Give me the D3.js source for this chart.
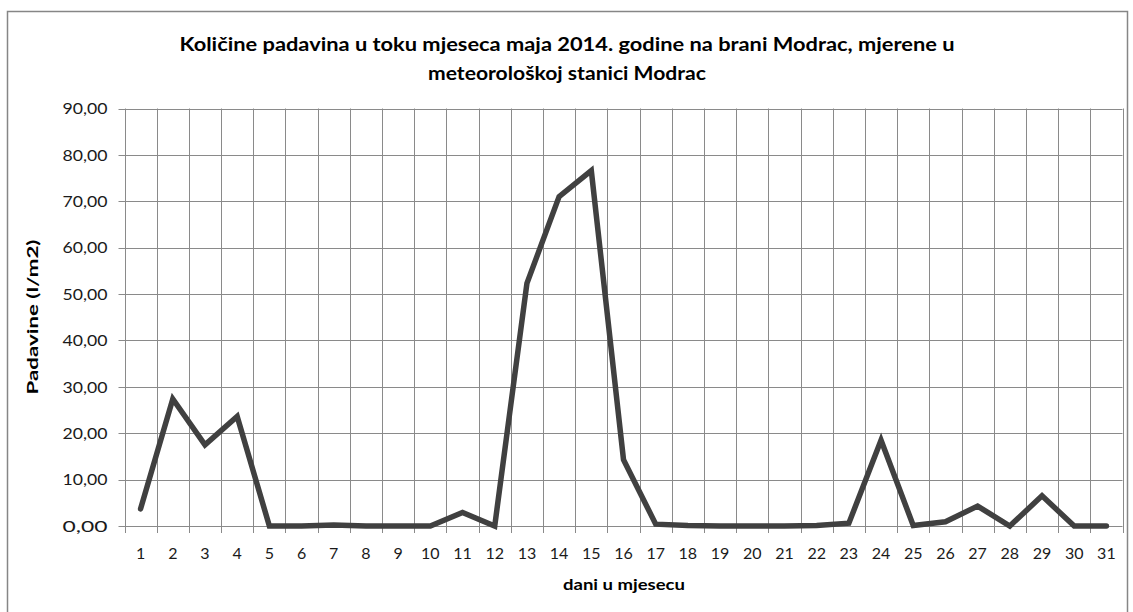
<!DOCTYPE html>
<html><head><meta charset="utf-8">
<script src="https://cdn.jsdelivr.net/npm/d3@7"></script>
<style>body{margin:0;background:#fff;} svg{display:block;font-family:Lato,"Open Sans",sans-serif;}</style>
</head><body>
<svg id="c" width="1133" height="612"></svg>
<script>
const days = ["1","2","3","4","5","6","7","8","9","10","11","12","13","14","15","16","17","18","19","20","21","22","23","24","25","26","27","28","29","30","31"];
const rainfall = [3.7,27.4,17.5,23.6,0,0,0.2,0,0,0,2.9,0,52.3,71.0,76.6,14.3,0.4,0.1,0,0,0,0.1,0.6,18.5,0.1,0.9,4.3,0,6.5,0,0];
const yTicks = [0,10,20,30,40,50,60,70,80,90];
const titleLines = ["Količine padavina u toku mjeseca maja 2014. godine na brani Modrac, mjerene u","meteorološkoj stanici Modrac"];
const yTitle = "Padavine (l/m2)";
const xTitle = "dani u mjesecu";

const svg = d3.select("#c");
const m = {left:124.5, right:1122.5, top:108.5, bottom:526};

svg.append("rect").attr("x",7.5).attr("y",11.5).attr("width",1120).attr("height",620)
  .attr("fill","#fff").attr("stroke","#868686").attr("stroke-width",1.5);

const x = d3.scaleBand().domain(days).range([m.left,m.right]).padding(0);
const y = d3.scaleLinear().domain([0,90]).range([m.bottom,m.top]);
const fmt = d => d3.format(".2f")(d).replace(".",",");

// horizontal grid
svg.append("g").selectAll("line").data(yTicks).join("line")
  .attr("x1",m.left-6).attr("x2",m.right)
  .attr("y1",d=>Math.round(y(d))+0.5).attr("y2",d=>Math.round(y(d))+0.5)
  .attr("stroke","#8a8a8a").attr("stroke-width",1);
// vertical grid at band boundaries
const bounds = days.map(d=>x(d)).concat([m.right]);
svg.append("g").selectAll("line").data(bounds).join("line")
  .attr("x1",d=>Math.round(d)+0.5).attr("x2",d=>Math.round(d)+0.5)
  .attr("y1",m.top).attr("y2",m.bottom+7)
  .attr("stroke","#8a8a8a").attr("stroke-width",1);

// y tick labels
svg.append("g").selectAll("text").data(yTicks).join("text")
  .attr("x",m.left-17).attr("y",d=>y(d)).attr("dy","0.36em")
  .attr("text-anchor","end").attr("font-size",16).attr("fill","#1a1a1a")
  .attr("textLength",45).attr("lengthAdjust","spacingAndGlyphs").text(fmt);
// x tick labels
svg.append("g").selectAll("text").data(days).join("text")
  .attr("x",d=>x(d)+x.bandwidth()/2).attr("y",559)
  .attr("text-anchor","middle").attr("font-size",16).attr("fill","#1a1a1a").text(d=>d);

// line
const line = d3.line().x((d,i)=>x(days[i])+x.bandwidth()/2).y(d=>y(d));
svg.append("path").datum(rainfall).attr("d",line)
  .attr("fill","none").attr("stroke","#404040").attr("stroke-width",5.5)
  .attr("stroke-linejoin","miter").attr("stroke-miterlimit",4).attr("stroke-linecap","round");

// titles
svg.append("g").selectAll("text").data(titleLines).join("text")
  .attr("x",567).attr("y",(d,i)=>51+i*29).attr("text-anchor","middle")
  .attr("font-size",19).attr("font-weight","bold").attr("fill","#000")
  .attr("textLength",(d,i)=>i===0?775:278).attr("lengthAdjust","spacingAndGlyphs").text(d=>d);
svg.append("text").attr("transform","translate(38,317) rotate(-90)")
  .attr("text-anchor","middle").attr("font-size",16).attr("font-weight","bold").attr("fill","#000")
  .attr("textLength",155).attr("lengthAdjust","spacingAndGlyphs").text(yTitle);
svg.append("text").attr("x",624).attr("y",590).attr("text-anchor","middle")
  .attr("font-size",16).attr("font-weight","bold").attr("fill","#000")
  .attr("textLength",122).attr("lengthAdjust","spacingAndGlyphs").text(xTitle);
</script>
</body></html>
